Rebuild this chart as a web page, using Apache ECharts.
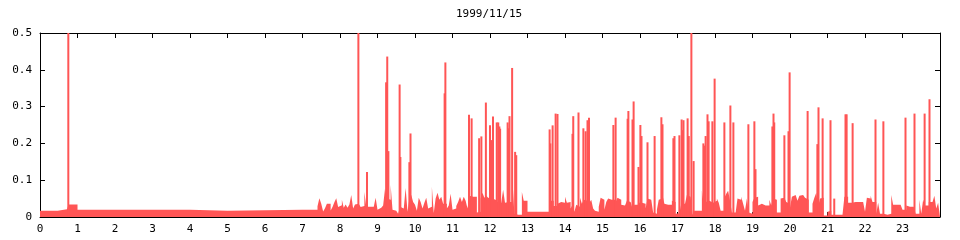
<!DOCTYPE html>
<html><head><meta charset="utf-8">
<script src="https://cdn.jsdelivr.net/npm/echarts@6/dist/echarts.min.js"></script>
<style>html,body{margin:0;padding:0;background:#fff}#c{width:960px;height:240px}</style>
</head><body><div id="c"></div>
<script>
// ---- data (hours of day, value) ----
const titleText = '1999/11/15';
// step segments for the quiet early hours: [startHour, value]
const base0 = [[0,0.017],[0.47,0.021],[0.72,0.017],[0.76,0.034],[1.0,0.020],[4.0,0.017],[5.0,0.020]];
// background level, 3-minute bins (20 per hour) for hours 7..23
const h07 = [0.020,0.020,0.020,0.020,0.020,0.020,0.020,0.020,0.029,0.051,0.036,0.015,0.024,0.036,0.036,0.018,0.027,0.040,0.051,0.027];
const h08 = [0.032,0.047,0.025,0.034,0.025,0.034,0.060,0.023,0.034,0.036,0.031,0.027,0.030,0.068,0.028,0.028,0.031,0.028,0.031,0.052];
const h09 = [0.020,0.025,0.025,0.031,0.077,0.050,0.047,0.087,0.020,0.017,0.012,0.009,0.028,0.023,0.020,0.079,0.014,0.050,0.060,0.041];
const h10 = [0.033,0.017,0.052,0.041,0.023,0.039,0.052,0.023,0.028,0.082,0.011,0.050,0.066,0.047,0.055,0.036,0.036,0.023,0.031,0.063];
const h11 = [0.020,0.023,0.030,0.041,0.055,0.041,0.055,0.044,0.023,0.058,0.055,0.055,0.055,0.012,0.014,0.050,0.066,0.052,0.058,0.052];
const h12 = [0.050,0.047,0.047,0.050,0.041,0.039,0.041,0.074,0.039,0.041,0.041,0.041,0.100,0.009,0.006,0.006,0.006,0.068,0.044,0.044];
const h13 = [0.014,0.014,0.014,0.014,0.014,0.014,0.014,0.014,0.014,0.014,0.014,0.014,0.044,0.044,0.030,0.030,0.036,0.041,0.044,0.039];
const h14 = [0.055,0.039,0.041,0.023,0.033,0.014,0.033,0.028,0.052,0.036,0.047,0.044,0.050,0.039,0.047,0.023,0.017,0.014,0.028,0.052];
const h15 = [0.047,0.020,0.041,0.050,0.047,0.052,0.047,0.041,0.052,0.047,0.033,0.031,0.033,0.044,0.041,0.044,0.023,0.033,0.033,0.039];
const h16 = [0.039,0.044,0.036,0.023,0.050,0.047,0.050,0.012,0.009,0.020,0.047,0.050,0.060,0.036,0.033,0.033,0.033,0.044,0.041,0.009];
const h17 = [0.010,0.012,0.036,0.036,0.036,0.060,0.055,0.055,0.006,0.017,0.017,0.017,0.017,0.071,0.033,0.041,0.044,0.047,0.039,0.039];
const h18 = [0.044,0.050,0.039,0.017,0.017,0.052,0.063,0.071,0.044,0.012,0.012,0.014,0.050,0.047,0.055,0.036,0.017,0.050,0.012,0.009];
const h19 = [0.041,0.052,0.055,0.031,0.036,0.031,0.031,0.031,0.031,0.047,0.031,0.050,0.047,0.012,0.012,0.050,0.052,0.050,0.041,0.036];
const h20 = [0.025,0.055,0.060,0.063,0.044,0.058,0.060,0.055,0.052,0.047,0.012,0.012,0.036,0.052,0.066,0.028,0.050,0.052,0.004,0.004];
const h21 = [0.014,0.017,0.006,0.006,0.006,0.006,0.006,0.006,0.006,0.055,0.055,0.039,0.039,0.044,0.041,0.041,0.041,0.041,0.041,0.041];
const h22 = [0.014,0.052,0.050,0.058,0.041,0.041,0.009,0.039,0.009,0.009,0.006,0.006,0.009,0.009,0.060,0.033,0.033,0.033,0.033,0.033];
const h23 = [0.020,0.020,0.031,0.028,0.028,0.028,0.031,0.009,0.009,0.047,0.009,0.047,0.031,0.031,0.041,0.041,0.041,0.058,0.023,0.039];
// narrow peaks: [hour, value]
const spikes = [
 [0.755,0.5],[8.49,0.5],[8.72,0.122],[9.23,0.366],[9.26,0.436],[9.29,0.179],[9.59,0.36],[9.61,0.163],
 [9.85,0.149],[9.88,0.227],[10.79,0.336],[10.81,0.42],[11.44,0.278],[11.51,0.268],[11.71,0.214],[11.77,0.219],
 [11.89,0.311],[12.0,0.249],[12.05,0.209],[12.08,0.273],[12.18,0.257],[12.22,0.257],[12.25,0.246],[12.27,0.24],
 [12.47,0.257],[12.49,0.241],[12.52,0.274],[12.59,0.405],[12.67,0.177],[12.7,0.168],
 [13.59,0.238],[13.61,0.2],[13.67,0.249],[13.75,0.281],[13.8,0.28],
 [14.2,0.226],[14.22,0.274],[14.36,0.284],[14.49,0.241],[14.55,0.233],[14.6,0.263],[14.62,0.23],[14.64,0.27],
 [15.29,0.25],[15.35,0.27],[15.67,0.267],[15.69,0.288],[15.8,0.265],[15.83,0.314],[15.96,0.136],
 [16.01,0.25],[16.04,0.22],[16.2,0.203],[16.39,0.22],[16.57,0.271],[16.6,0.252],[16.89,0.214],[16.92,0.22],
 [17.05,0.222],[17.11,0.265],[17.13,0.236],[17.16,0.263],[17.27,0.268],[17.3,0.22],[17.37,0.5],[17.43,0.152],
 [17.69,0.2],[17.72,0.194],[17.75,0.22],[17.8,0.279],[17.83,0.26],[17.93,0.26],[17.99,0.376],
 [18.25,0.257],[18.41,0.303],[18.49,0.257],[18.89,0.252],
 [19.05,0.26],[19.08,0.13],[19.53,0.246],[19.56,0.281],[19.58,0.257],[19.85,0.222],[19.96,0.233],[19.99,0.393],
 [20.47,0.288],[20.73,0.198],[20.76,0.298],[20.87,0.268],
 [21.08,0.263],[21.18,0.05],[21.48,0.279],[21.51,0.279],[21.67,0.255],[22.28,0.265],[22.49,0.26],
 [23.08,0.27],[23.32,0.281],[23.59,0.281],[23.72,0.32]
];
const hourBins = [h07,h08,h09,h10,h11,h12,h13,h14,h15,h16,h17,h18,h19,h20,h21,h22,h23];
const firstBinHour = 7;
const binsPerHour = 20;

// ---- build explicit step outline: each level holds until the next start ----
const segs = base0.slice();
hourBins.forEach((arr, k) => {
  arr.forEach((v, i) => segs.push([firstBinHour + k + i / binsPerHour, v]));
});
const stepData = [];
for (let i = 0; i < segs.length; i++) {
  const x0 = segs[i][0], v = segs[i][1];
  const x1 = i + 1 < segs.length ? segs[i + 1][0] : 24;
  stepData.push([x0, v], [x1, v]);
}

const RED = '#ff5555';
const FONT = 'DejaVu Sans Mono';
const chart = echarts.init(document.getElementById('c'), null, {renderer: 'canvas'});
const axBase = {
  min: 0, max: 24, interval: 1, type: 'value',
  axisLine: {show: true, onZero: false, lineStyle: {color: '#000', width: 1}},
  axisTick: {show: true, inside: true, length: 5, lineStyle: {color: '#000'}},
  splitLine: {show: false}
};
const ayBase = {
  min: 0, max: 0.5, interval: 0.1, type: 'value',
  axisLine: {show: true, onZero: false, lineStyle: {color: '#000', width: 1}},
  axisTick: {show: true, inside: true, length: 5, lineStyle: {color: '#000'}},
  splitLine: {show: false}
};
chart.setOption({
  animation: false,
  title: {text: titleText, left: 456, top: 9, padding: 0,
    textStyle: {fontFamily: FONT, fontSize: 11, fontWeight: 'normal', color: '#000'}},
  grid: {left: 40, right: 20, top: 33, bottom: 23, containLabel: false},
  xAxis: [
    Object.assign({}, axBase, {position: 'bottom',
      axisLabel: {show: true, margin: 7, color: '#000', fontFamily: FONT, fontSize: 11,
        formatter: v => (v < 24 ? String(v) : '')}}),
    Object.assign({}, axBase, {position: 'top', axisLabel: {show: false}})
  ],
  yAxis: [
    Object.assign({}, ayBase, {position: 'left',
      axisLabel: {show: true, margin: 8, color: '#000', fontFamily: FONT, fontSize: 11,
        formatter: v => (v === 0 ? '0' : v.toFixed(1))}}),
    Object.assign({}, ayBase, {position: 'right', axisLabel: {show: false}})
  ],
  series: [
    {type: 'line', data: stepData, xAxisIndex: 0, yAxisIndex: 0,
      showSymbol: false, symbol: 'none', sampling: 'none', z: 5, clip: true,
      lineStyle: {width: 0, color: RED}, areaStyle: {color: RED, opacity: 1}},
    {type: 'bar', data: spikes, xAxisIndex: 0, yAxisIndex: 0, barWidth: 2, z: 5,
      itemStyle: {color: RED}}
  ]
});
</script></body></html>
